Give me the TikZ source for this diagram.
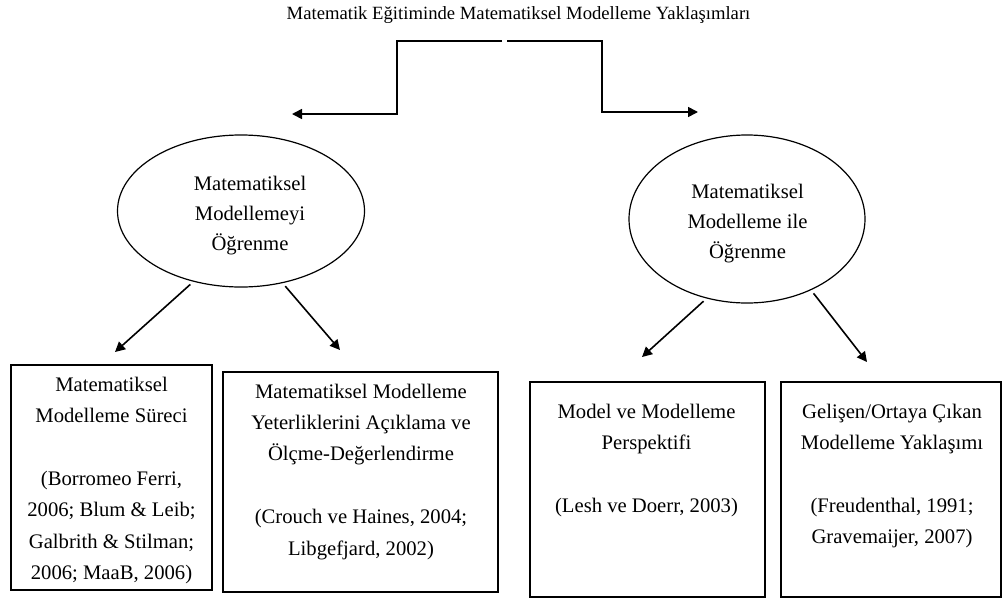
\documentclass[tikz,border=0pt]{standalone}
\usepackage{fontspec}
\setmainfont{Liberation Serif}
\usetikzlibrary{arrows.meta,shapes.geometric}

\tikzset{
  conn/.style={line width=1.2pt},
  arr/.style={conn, -{Triangle[length=7.5pt,width=7.5pt]}},
  oval/.style={draw, ellipse, line width=0.9pt, inner sep=0pt},
  frame/.style={draw, rectangle, line width=1.4pt, inner sep=0pt},
  boxtext/.style={anchor=base, inner sep=0pt, font=\fontsize{15.5}{23.6}\selectfont},
  ovaltext/.style={anchor=base, inner sep=0pt, font=\fontsize{15.5}{22.5}\selectfont},
}

\begin{document}
\begin{tikzpicture}[x=0.75pt, y=-0.75pt]
\useasboundingbox (0,0) rectangle (1003,600);

% title
\node[anchor=base, inner sep=0pt, font=\fontsize{14}{17}\selectfont] (title) at (518.5,19)
  {Matematik Eğitiminde Matematiksel Modelleme Yaklaşımları};

% split below the title
\coordinate (splitL) at (502,41);
\coordinate (splitR) at (507,41);
\coordinate (endL) at (292,114);
\coordinate (endR) at (698,112);
\draw[arr] (splitL) -- ++(-105,0) |- (endL);
\draw[arr] (splitR) -- ++(95,0) |- (endR);

% the two approaches
\node[oval, minimum width=185.25pt, minimum height=114pt] (e1) at (241,211) {};
\node[ovaltext] (e1t) at (250,190)
  {\parbox[t]{6cm}{\centering Matematiksel\\ Modellemeyi\\ Öğrenme}};
\node[oval, minimum width=177pt, minimum height=126pt] (e2) at (747,219) {};
\node[ovaltext] (e2t) at (747.5,198)
  {\parbox[t]{6cm}{\centering Matematiksel\\ Modelleme ile\\ Öğrenme}};

% the four boxes
\node[frame, minimum width=150.75pt, minimum height=168.75pt] (b1) at (111.5,477.5) {};
\node[frame, minimum width=206.25pt, minimum height=165pt] (b2) at (360.5,482) {};
\node[frame, minimum width=176.25pt, minimum height=161.25pt] (b3) at (647.5,489.5) {};
\node[frame, minimum width=165pt, minimum height=161.25pt] (b4) at (891,489.5) {};

\node[boxtext] (b1t) at (111.5,391)
  {\parbox[t]{7cm}{\centering Matematiksel\\ Modelleme Süreci\\[23.6pt]
   (Borromeo Ferri,\\ 2006; Blum \& Leib;\\ Galbrith \& Stilman;\\ 2006; MaaB, 2006)}};
\node[boxtext] (b2t) at (361,398)
  {\parbox[t]{8cm}{\centering Matematiksel Modelleme\\ Yeterliklerini Açıklama ve\\ Ölçme-Değerlendirme\\[23.6pt]
   (Crouch ve Haines, 2004;\\ Libgefjard, 2002)}};
\node[boxtext] (b3t) at (646.5,418)
  {\parbox[t]{7cm}{\centering Model ve Modelleme\\ Perspektifi\\[23.6pt]
   (Lesh ve Doerr, 2003)}};
\node[boxtext] (b4t) at (892,418)
  {\parbox[t]{7cm}{\centering Gelişen/Ortaya Çıkan\\ Modelleme Yaklaşımı\\[23.6pt]
   (Freudenthal, 1991;\\ Gravemaijer, 2007)}};

% arrows from the ovals towards the boxes
\coordinate (a1) at (115,352);
\coordinate (a2) at (340,350);
\coordinate (a3) at (642,357);
\coordinate (a4) at (867,362);
\draw[arr, shorten <=3pt] (e1.236) -- (a1);
\draw[arr, shorten <=3pt] (e1.300) -- (a2);
\draw[arr, shorten <=3pt] (e2.243) -- (a3);
\draw[arr, shorten <=3pt] (e2.312) -- (a4);
\end{tikzpicture}
\end{document}
